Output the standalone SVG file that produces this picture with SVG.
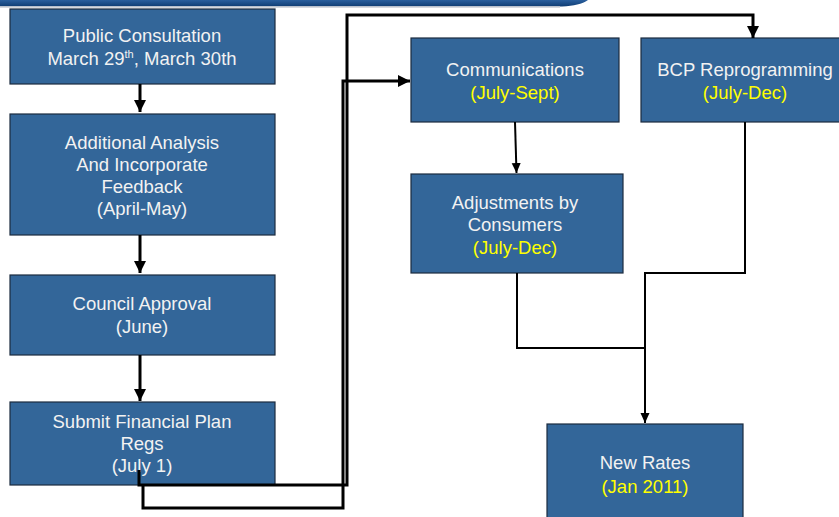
<svg xmlns="http://www.w3.org/2000/svg" width="839" height="517" viewBox="0 0 839 517">
<defs>
<linearGradient id="band" x1="0" y1="0" x2="0" y2="1">
<stop offset="0" stop-color="#2a5f9e"/>
<stop offset="1" stop-color="#0f3d73"/>
</linearGradient>
<marker id="ah" markerUnits="userSpaceOnUse" markerWidth="12" markerHeight="12" viewBox="0 0 12 12" refX="12" refY="6" orient="auto">
<path d="M0,0 L12,6 L0,12 Z" fill="#000"/>
</marker>
<marker id="ahs" markerUnits="userSpaceOnUse" markerWidth="10" markerHeight="10" viewBox="0 0 10 10" refX="10" refY="5" orient="auto">
<path d="M0,0.5 L10,5 L0,9.5 Z" fill="#000"/>
</marker>
</defs>
<style>
.box{fill:#336699;stroke:#1c2b3f;stroke-width:1.2}
.t{font-family:"Liberation Sans",Arial,sans-serif;font-size:18.5px;fill:#f2f2f2;text-anchor:middle}
.y{fill:#ffff00}
.c{fill:none;stroke:#000;stroke-width:3}
.c2{fill:none;stroke:#000;stroke-width:2}
</style>
<rect width="839" height="517" fill="#fff"/>
<path d="M0,0 H588 C582,4 574,6 562,6.5 H0 Z" fill="url(#band)"/>
<path d="M0,7 H560" stroke="#c8ccd4" stroke-width="1.5"/>

<g id="public-consultation">
<rect class="box" x="10" y="9" width="265" height="75"/>
<text class="t" x="142" y="42">Public Consultation</text>
<text class="t" x="142" y="65">March 29<tspan font-size="11" dy="-7">th</tspan><tspan dy="7">, March 30th</tspan></text>
</g>

<g id="additional-analysis">
<rect class="box" x="10" y="114" width="265" height="121"/>
<text class="t" x="142" y="149">Additional Analysis</text>
<text class="t" x="142" y="171">And Incorporate</text>
<text class="t" x="142" y="193">Feedback</text>
<text class="t" x="142" y="215">(April-May)</text>
</g>

<g id="council-approval">
<rect class="box" x="10" y="275" width="265" height="80"/>
<text class="t" x="142" y="310">Council Approval</text>
<text class="t" x="142" y="333">(June)</text>
</g>

<g id="submit-plan">
<rect class="box" x="10" y="402" width="265" height="83"/>
<text class="t" x="142" y="428">Submit Financial Plan</text>
<text class="t" x="142" y="450">Regs</text>
<text class="t" x="142" y="472">(July 1)</text>
</g>

<g id="communications">
<rect class="box" x="411" y="38" width="208" height="84"/>
<text class="t" x="515" y="76">Communications</text>
<text class="t y" x="515" y="99">(July-Sept)</text>
</g>

<g id="bcp-reprogramming">
<rect class="box" x="641" y="38" width="210" height="84"/>
<text class="t" x="745" y="76">BCP Reprogramming</text>
<text class="t y" x="745" y="99">(July-Dec)</text>
</g>

<g id="adjustments">
<rect class="box" x="411" y="174" width="212" height="99"/>
<text class="t" x="515" y="209">Adjustments by</text>
<text class="t" x="515" y="231">Consumers</text>
<text class="t y" x="515" y="254">(July-Dec)</text>
</g>

<g id="new-rates">
<rect class="box" x="547" y="424" width="196" height="100"/>
<text class="t" x="645" y="469">New Rates</text>
<text class="t y" x="645" y="493">(Jan 2011)</text>
</g>

<g id="connectors">
<path class="c" d="M140,84 V112" marker-end="url(#ah)"/>
<path class="c" d="M140,235 V273" marker-end="url(#ah)"/>
<path class="c" d="M140,355 V401" marker-end="url(#ah)"/>
<path class="c" d="M139,470 V485 H347 V15 H753 V38" marker-end="url(#ah)"/>
<path class="c" d="M143,485 V508 H343 V81 H410" marker-end="url(#ah)"/>
<path class="c2" d="M515,122 L516.5,173" marker-end="url(#ahs)"/>
<path class="c2" d="M745,122 V273 H645 V423" marker-end="url(#ahs)"/>
<path class="c2" d="M517,273 V348 H645"/>
</g>
</svg>
